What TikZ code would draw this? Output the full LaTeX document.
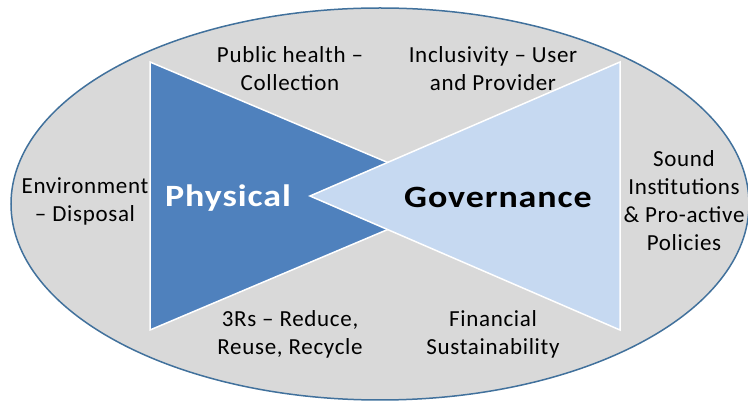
\documentclass[tikz,border=0pt]{standalone}
\usepackage{fontspec}
\setmainfont{Carlito}
\newfontfamily\labelfont[LetterSpace=3]{Carlito}
\newfontfamily\bigfont[FakeStretch=1.16,LetterSpace=3]{Carlito}
\definecolor{ringfill}{HTML}{D9D9D9}
\definecolor{ringline}{HTML}{41719C}
\definecolor{physblue}{HTML}{4F81BD}
\definecolor{govblue}{HTML}{C6D9F1}
\begin{document}
\begin{tikzpicture}[x=1pt,y=-1pt,
  lbl/.style={align=center,font=\labelfont\fontsize{23}{28}\selectfont,inner sep=0pt},
  big/.style={font=\bigfont\fontsize{31}{36}\selectfont\bfseries,inner sep=0pt}]
\useasboundingbox (0,0) rectangle (748,403);

% outer ring
\draw [ringline,fill=ringfill,line width=1.5pt] (380,204) ellipse [x radius=369,y radius=196];

% the two triangles
\draw [white,fill=physblue,line width=1.5pt] (150,62)--(467,196)--(150,330)--cycle;
\draw [white,fill=govblue,line width=1.5pt] (620,62)--(310,196)--(620,330)--cycle;

\node [big,white] (phys) at (228,198) {Physical};
\node [big,black] (gov) at (498,197) {Governance};

\node [lbl] (health) at (290,69) {Public health \textendash\\Collection};
\node [lbl] (incl) at (493,69) {Inclusivity \textendash{} User\\and Provider};
\node [lbl] (env) at (85,201) {Environment\\\textendash{} Disposal};
\node [lbl] (sound) at (684,201) {Sound\\Institutions\\\& Pro-active\\Policies};
\node [lbl] (rrr) at (290,334) {3Rs \textendash{} Reduce,\\Reuse, Recycle};
\node [lbl] (fin) at (493,334) {Financial\\Sustainability};
\end{tikzpicture}
\end{document}
